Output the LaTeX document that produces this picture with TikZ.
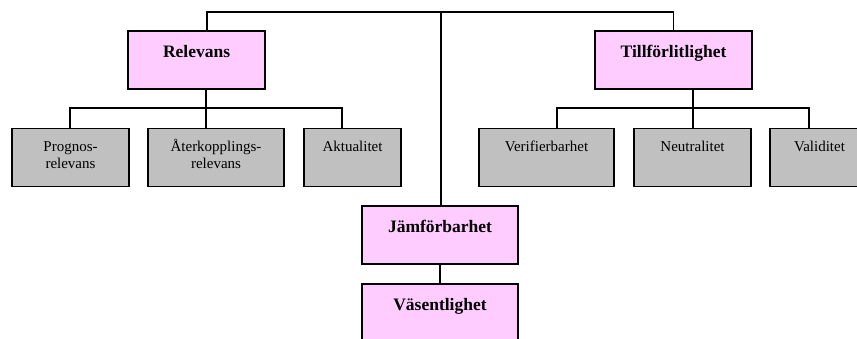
\documentclass[tikz,border=0pt]{standalone}
\usepackage{fontspec}
\setmainfont{Liberation Serif}
\definecolor{pinkbox}{HTML}{FFCCFF}
\definecolor{graybox}{HTML}{C0C0C0}
\newcommand{\twolines}[2]{\vtop{\baselineskip=16.7pt\halign{\hfil##\hfil\cr #1\cr #2\cr}}}
\begin{document}
\begin{tikzpicture}[x=1pt,y=-1pt,
  conn/.style={line width=1.3pt},
  mainbox/.style={draw, line width=1.3pt, fill=pinkbox, inner sep=0pt,
    minimum height=58pt, text height=26.5pt, text depth=31.5pt,
    font=\fontsize{17.5}{20}\selectfont\bfseries},
  subbox/.style={draw, line width=1.3pt, fill=graybox, inner sep=0pt,
    minimum height=58.5pt, text height=23.5pt, text depth=35pt,
    font=\fontsize{15}{16.7}\selectfont}]
\clip (0,0) rectangle (857,339);
\useasboundingbox (0,0) rectangle (857,339);
% main boxes
\node[mainbox, minimum width=137pt] (rel) at (196.6,60) {Relevans};
\node[mainbox, minimum width=157pt] (till) at (673.5,60) {Tillförlitlighet};
\node[mainbox, minimum width=156pt] (jam) at (440,235) {Jämförbarhet};
\node[mainbox, minimum width=156pt] (vas) at (440,313) {Väsentlighet};
% sub boxes
\node[subbox, minimum width=117pt] (prog) at (70.5,157.5) {\twolines{Prognos-}{relevans}};
\node[subbox, minimum width=136pt] (ater) at (216,157.5) {\twolines{Återkopplings-}{relevans}};
\node[subbox, minimum width=97pt] (akt) at (352.5,157.5) {Aktualitet};
\node[subbox, minimum width=135pt] (ver) at (546.5,157.5) {Verifierbarhet};
\node[subbox, minimum width=117pt] (neu) at (692.5,157.5) {Neutralitet};
\node[subbox, minimum width=99pt] (val) at (819.5,157.5) {Validitet};
% coordinates
\coordinate (tl) at (207,12);
\coordinate (tc) at (441,12);
\coordinate (tr) at (673.5,12);
\coordinate (lb1) at (70,108);
\coordinate (lb2) at (206,108);
\coordinate (lb3) at (342,108);
\coordinate (rb1) at (557,108);
\coordinate (rb2) at (693,108);
\coordinate (rb3) at (809,108);
% connectors
\draw[conn] (rel.north -| tl) -- (tl) -- (tr) -- (till.north);
\draw[conn] (tc) -- (jam.north -| tc);
\draw[conn] (jam.south) -- (vas.north);
\draw[conn] (prog.north -| lb1) -- (lb1) -- (lb3) -- (akt.north -| lb3);
\draw[conn] (rel.south -| lb2) -- (ater.north -| lb2);
\draw[conn] (ver.north -| rb1) -- (rb1) -- (rb3) -- (val.north -| rb3);
\draw[conn] (till.south -| rb2) -- (neu.north -| rb2);
\end{tikzpicture}
\end{document}
